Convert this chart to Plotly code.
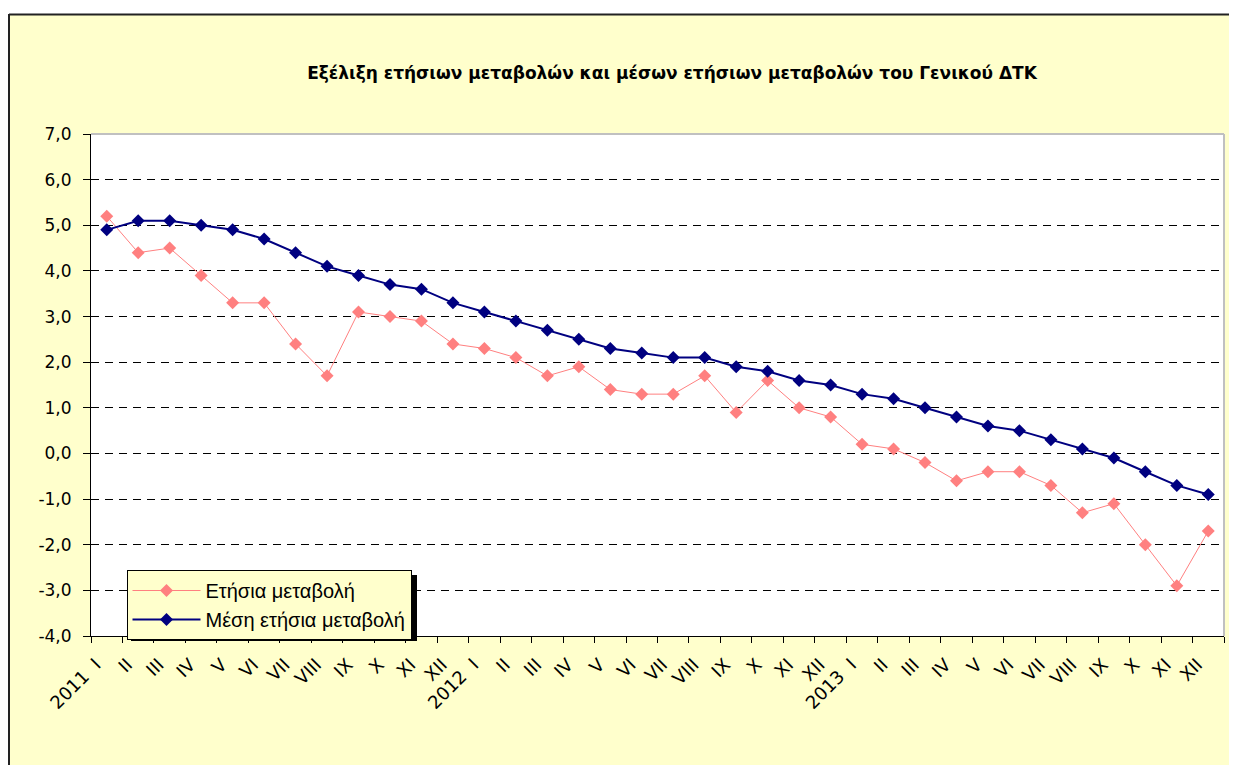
import plotly.graph_objects as go

# ---------------- data ----------------
months = ["I", "II", "III", "IV", "V", "VI", "VII", "VIII", "IX", "X", "XI", "XII"]
years = ["2011", "2012", "2013"]
periods = [f"{y}-{i + 1:02d}" for y in years for i in range(len(months))]
tick_labels = [(f"{y}\u00a0\u00a0{m}" if i == 0 else m) for y in years for i, m in enumerate(months)]

annual_change = [5.2, 4.4, 4.5, 3.9, 3.3, 3.3, 2.4, 1.7, 3.1, 3.0, 2.9, 2.4,
                 2.3, 2.1, 1.7, 1.9, 1.4, 1.3, 1.3, 1.7, 0.9, 1.6, 1.0, 0.8,
                 0.2, 0.1, -0.2, -0.6, -0.4, -0.4, -0.7, -1.3, -1.1, -2.0, -2.9, -1.7]
mean_annual_change = [4.9, 5.1, 5.1, 5.0, 4.9, 4.7, 4.4, 4.1, 3.9, 3.7, 3.6, 3.3,
                      3.1, 2.9, 2.7, 2.5, 2.3, 2.2, 2.1, 2.1, 1.9, 1.8, 1.6, 1.5,
                      1.3, 1.2, 1.0, 0.8, 0.6, 0.5, 0.3, 0.1, -0.1, -0.4, -0.7, -0.9]
y_tick_values = [-4, -3, -2, -1, 0, 1, 2, 3, 4, 5, 6, 7]
y_tick_labels = ["-4,0", "-3,0", "-2,0", "-1,0", "0,0", "1,0", "2,0", "3,0", "4,0", "5,0", "6,0", "7,0"]
series_names = ["Ετήσια μεταβολή", "Μέση ετήσια μεταβολή"]
title_text = "Εξέλιξη ετήσιων μεταβολών και μέσων ετήσιων μεταβολών του Γενικού ΔΤΚ"

# ---------------- layout geometry (figure pixel coords) ----------------
W, H = 1229, 757
L, R, T, B = 83, 1216, 126, 628
PW, PH = R - L, B - T

def px(x):
    return (x - L) / PW

def py(y):
    return (B - y) / PH

FONT = "DejaVu Sans, Verdana, sans-serif"
LEG_FONT = "Liberation Sans, Arial, sans-serif"

fig = go.Figure()
fig.add_trace(go.Scatter(
    x=periods, y=annual_change, name=series_names[0], mode="lines+markers",
    line=dict(color="#FF8080", width=1),
    marker=dict(symbol="diamond", size=10, color="#FF8080"),
))
fig.add_trace(go.Scatter(
    x=periods, y=mean_annual_change, name=series_names[1], mode="lines+markers",
    line=dict(color="#000080", width=2),
    marker=dict(symbol="diamond", size=10, color="#000080"),
))

shapes = []
# white strip above the chart area
shapes.append(dict(type="rect", xref="paper", yref="paper", x0=px(-5), x1=px(W + 5),
                   y0=py(6), y1=py(-5), fillcolor="white", line=dict(width=0), layer="above"))
# chart border (top / left)
shapes.append(dict(type="line", xref="paper", yref="paper", x0=px(1), x1=px(W + 5),
                   y0=py(6.5), y1=py(6.5), line=dict(color="#222", width=2), layer="above"))
shapes.append(dict(type="line", xref="paper", yref="paper", x0=px(1), x1=px(1),
                   y0=py(6), y1=py(H + 5), line=dict(color="#222", width=2), layer="above"))
# plot area gray border top/right
shapes.append(dict(type="line", xref="paper", yref="paper", x0=0, x1=1, y0=1, y1=1,
                   line=dict(color="#C0C0C0", width=2), layer="above"))
shapes.append(dict(type="line", xref="paper", yref="paper", x0=1, x1=1, y0=0, y1=1,
                   line=dict(color="#C0C0C0", width=2), layer="above"))
# legend shadow
shapes.append(dict(type="rect", xref="paper", yref="paper", x0=px(123), x1=px(409),
                   y0=py(633), y1=py(567), fillcolor="black", line=dict(width=0), layer="above"))

fig.update_layout(
    width=W, height=H,
    margin=dict(l=L, r=W - R, t=T, b=H - B, pad=0),
    paper_bgcolor="#FFFFCC", plot_bgcolor="white",
    font=dict(family=FONT, size=17, color="black"),
    title=dict(text=f"<b>{title_text}</b>", x=px(664), xref="paper", xanchor="center",
               y=1 - 65 / H, yref="container", yanchor="middle",
               font=dict(family=FONT, size=17, color="black")),
    showlegend=True,
    legend=dict(x=px(118.5), y=py(562), xanchor="left", yanchor="top",
                bgcolor="#FFFFCC", bordercolor="black", borderwidth=1,
                font=dict(family=LEG_FONT, size=20, color="black"),
                tracegroupgap=0, itemwidth=68),
    shapes=shapes,
)

fig.update_xaxes(
    type="category", categoryorder="array", categoryarray=periods,
    range=[-0.5, len(periods) - 0.5], autorange=False,
    tickmode="array", tickvals=periods, ticktext=tick_labels,
    tickson="boundaries", tickangle=-45, ticklabelstandoff=10, ticklabelshift=-11,
    ticks="outside", ticklen=6, tickcolor="black",
    showgrid=False, zeroline=False,
    showline=True, linecolor="black", linewidth=1,
    tickfont=dict(family=FONT, size=18, color="black"),
)
fig.update_yaxes(
    range=[-4, 7], tickmode="array", tickvals=y_tick_values, ticktext=y_tick_labels,
    ticks="outside", ticklen=7, tickcolor="black", ticklabelstandoff=8,
    showline=True, linecolor="black", linewidth=1,
    showgrid=True, gridcolor="black", gridwidth=1, griddash="8px,6px",
    zeroline=False,
    tickfont=dict(family=FONT, size=17, color="black"),
)

fig.write_html("out.html")
